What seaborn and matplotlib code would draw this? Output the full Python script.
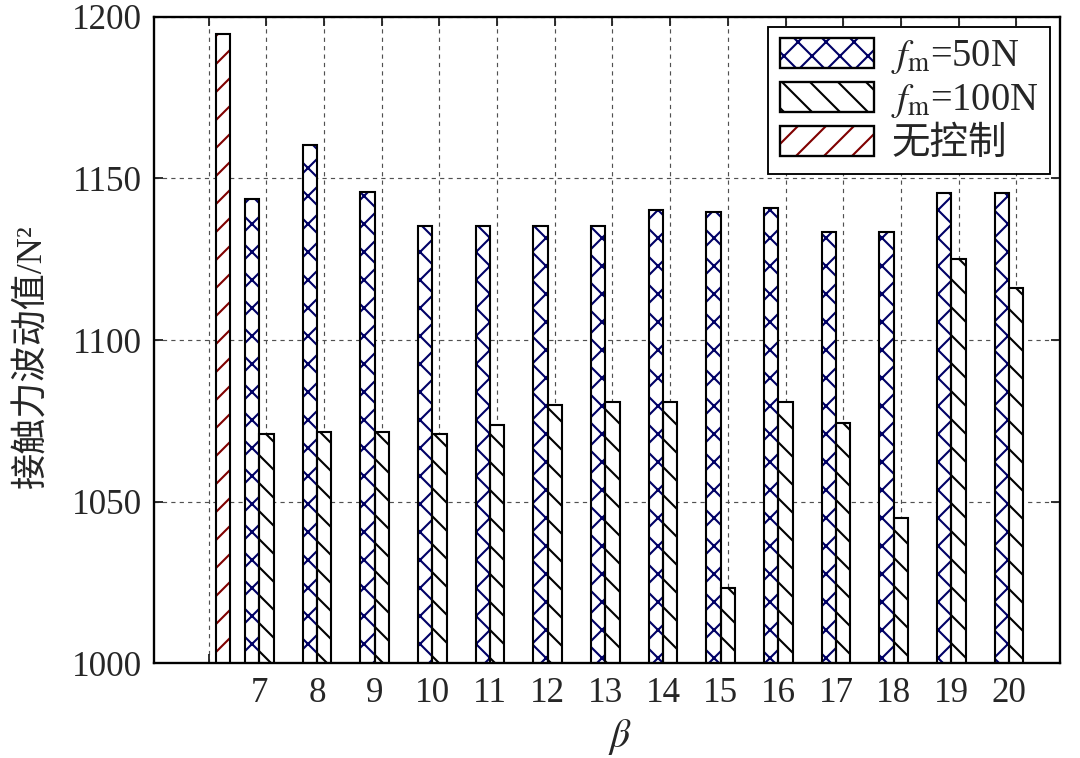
import numpy as np
import pandas as pd
import matplotlib.pyplot as plt
import seaborn as sns
from matplotlib.patches import Patch, Rectangle
from matplotlib.legend_handler import HandlerTuple

# values
beta = [7, 8, 9, 10, 11, 12, 13, 14, 15, 16, 17, 18, 19, 20]
f50 = [1143.7, 1160.4, 1145.7, 1135.4, 1135.4, 1135.4, 1135.4,
       1140.2, 1139.5, 1141.0, 1133.3, 1133.3, 1145.4, 1145.4]
f100 = [1070.9, 1071.5, 1071.5, 1070.9, 1073.7, 1080.0, 1080.8,
        1080.7, 1023.3, 1080.7, 1074.4, 1044.9, 1125.1, 1116.0]
no_ctrl_beta = [6]
no_ctrl = [1194.6]

labels = [r'$f_{\mathrm{m}}$=50N', r'$f_{\mathrm{m}}$=100N', '无控制']
hatch_colors = ['#000066', 'black', '#800000']
hatches = ['xx', '\\\\', '//']

df = pd.concat([
    pd.DataFrame({'beta': beta, 'value': f50, 'series': labels[0]}),
    pd.DataFrame({'beta': beta, 'value': f100, 'series': labels[1]}),
    pd.DataFrame({'beta': no_ctrl_beta, 'value': no_ctrl, 'series': labels[2]}),
], ignore_index=True)

sns.set_style('ticks')
plt.rcParams['font.family'] = ['Liberation Serif', 'Noto Sans CJK SC']
plt.rcParams['mathtext.fontset'] = 'stix'
plt.rcParams['hatch.linewidth'] = 0.9
plt.rcParams['lines.scale_dashes'] = False

dpi = 168
fig = plt.figure(figsize=(1080 / dpi, 758 / dpi), dpi=dpi)
ax = fig.add_axes([0.1426, 0.1253, 0.8389, 0.8523])

sns.barplot(data=df, x='beta', y='value', hue='series', hue_order=labels,
            native_scale=True, width=0.75, dodge=True, errorbar=None,
            palette={l: 'white' for l in labels}, legend=False, ax=ax)

for cont, h, hc in zip(ax.containers, hatches, hatch_colors):
    for p in cont.patches:
        p.set_facecolor('white')
        p.set_edgecolor(hc)
        p.set_linewidth(0)
        p.set_hatch(h)
        ax.add_patch(Rectangle(p.get_xy(), p.get_width(), p.get_height(),
                               fill=False, edgecolor='black', linewidth=0.9,
                               zorder=p.get_zorder() + 0.1))

ax.set_ylim(1000, 1200)
ax.set_xlim(5.05, 20.76)
ax.set_yticks(np.arange(1000, 1201, 50))
ax.set_xticks(range(6, 21))
ax.set_xticklabels([])
ax.set_xticks([b - 0.125 for b in beta], minor=True)
ax.set_xticklabels([str(b) for b in beta], minor=True)
ax.tick_params(which='major', direction='in', length=4, width=0.8,
               top=True, right=True, labelsize=15)
ax.tick_params(which='minor', length=0, labelsize=15, pad=6)
ax.tick_params(axis='y', pad=5)

ax.set_axisbelow(True)
ax.grid(True, which='major', color='#505050', linewidth=0.5,
        linestyle=(0, (1.8, 1.8)))
for s in ax.spines.values():
    s.set_linewidth(1.0)
    s.set_color('black')

ax.set_xlabel(r'$\beta$', fontsize=17)
ax.xaxis.set_label_coords(0.514, -0.083)
ax.set_ylabel('接触力波动值/N²', fontsize=15.5)
ax.yaxis.set_label_coords(-0.115, 0.475)

handles = []
for h, hc in zip(hatches, hatch_colors):
    handles.append((Patch(facecolor='white', edgecolor=hc, hatch=h, linewidth=0),
                    Patch(fill=False, edgecolor='black', linewidth=1.0)))
leg = ax.legend(handles, labels, loc='upper right', fontsize=16.5,
                handler_map={tuple: HandlerTuple(ndivide=1)},
                handlelength=2.45, handleheight=0.82, handletextpad=0.45,
                labelspacing=0.14, borderpad=0.3, borderaxespad=0.25,
                fancybox=False, framealpha=1, edgecolor='black')
leg.get_frame().set_linewidth(0.8)

fig.savefig('out.png', dpi=dpi)
